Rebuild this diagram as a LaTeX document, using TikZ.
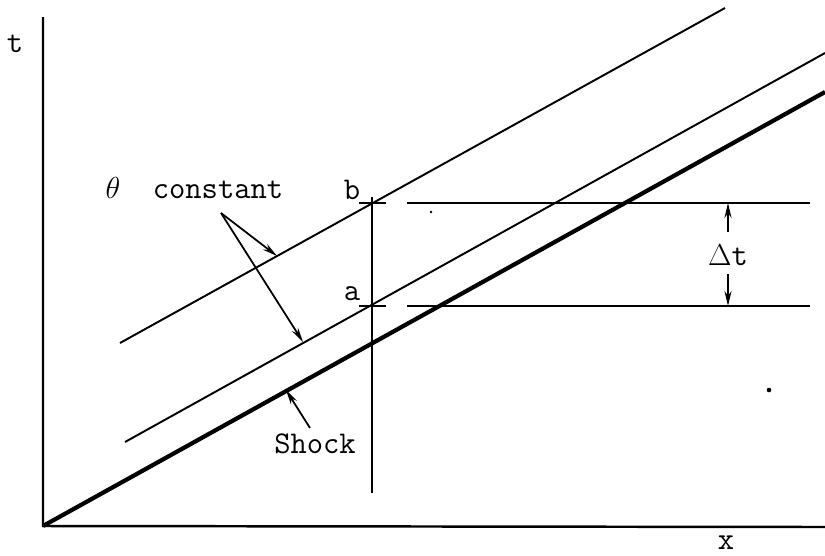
\documentclass[tikz,border=0pt]{standalone}
\usepackage{tikz}
\usetikzlibrary{arrows.meta,positioning}

\begin{document}
\begin{tikzpicture}[
		x=0.02cm, y=-0.02cm,
		>={Stealth[length=8.5pt,width=4pt]},
		thinline/.style={line width=1.1pt},
		shockline/.style={line width=2.4pt},
		axisline/.style={line width=1.4pt},
		lbl/.style={
			font=\fontsize{18}{20}\selectfont\ttfamily,
			inner sep=0pt,
			anchor=base
		},
		pointer/.style={->, line width=1pt}
		]
		\useasboundingbox (0,0) rectangle (825,555);
		
		% Axes
		\coordinate (origin) at (43,526);
		\coordinate (ttop) at (43,17);
		\coordinate (xend) at (825,527);
		\draw[axisline] (ttop) -- (origin) -- (xend);
		\node[lbl] (tlab) at (15,52) {t};
		\node[lbl] (xlab) at (726,549) {x};
		
		% Theta constant lines and shock
		\coordinate (upperA) at (120,343);
		\coordinate (upperB) at (725,8);
		\coordinate (lowerA) at (125,442);
		\coordinate (lowerB) at (825,53);
		\coordinate (shockB) at (825,92);
		\draw[thinline] (upperA) -- (upperB);
		\draw[thinline] (lowerA) -- (lowerB);
		\draw[shockline] (origin) -- (shockB);
		
		% Vertical cut with points a and b
		\coordinate (cuttop) at (372,197);
		\coordinate (cutbot) at (372,493);
		\draw[thinline] (cuttop) -- (cutbot);
		\coordinate (bL) at (359,203);
		\coordinate (bR) at (386,203);
		\coordinate (aL) at (359,306);
		\coordinate (aR) at (386,306);
		\draw[thinline] (bL) -- (bR);
		\draw[thinline] (aL) -- (aR);
		\node[lbl] (blab) at (352,199) {b};
		\node[lbl] (alab) at (352,300) {a};
		
		% Horizontal levels
		\coordinate (bstart) at (407,203);
		\coordinate (bend) at (810,203);
		\coordinate (astart) at (407,306);
		\coordinate (aend) at (810,306);
		\draw[thinline] (bstart) -- (bend);
		\draw[thinline] (astart) -- (aend);
		
		% Delta t
		\node[lbl] (dt) at (728,265) {$\Delta$t};
		\coordinate (dtup) at (728,232);
		\coordinate (dtdown) at (728,274);
		\coordinate (dttop) at (728,203);
		\coordinate (dtbot) at (728,306);
		\draw[pointer] (dtup) -- (dttop);
		\draw[pointer] (dtdown) -- (dtbot);
		
		% Labels with pointers
		\node[lbl] (theta) at (113,198) {$\theta$};
		\node[lbl] (const) at (218,198) {constant};
		\coordinate (cfrom) at (221,213);
		\coordinate (cupper) at (277,256);
		\coordinate (clower) at (303,342);
		\draw[pointer] (cfrom) -- (cupper);
		\draw[pointer] (cfrom) -- (clower);
		
		\node[lbl] (shock) at (315,453) {Shock};
		\coordinate (shockpt) at (286,390);
		\draw[pointer] (310,428) -- (shockpt);
		
		% Specks
		\fill (431,212) circle (1.3);
		\fill (769,390) circle (2.3);
		
	\end{tikzpicture}
\end{document}
